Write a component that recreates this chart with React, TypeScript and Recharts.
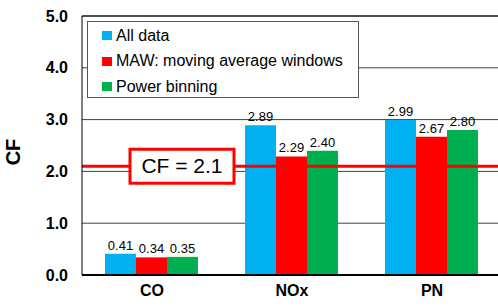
import React from "react";
import {
  BarChart,
  Bar,
  XAxis,
  YAxis,
  CartesianGrid,
  ReferenceLine,
  Legend,
  LabelList,
} from "recharts";

const categories = ["CO", "NOx", "PN"];
const allData = [0.41, 2.89, 2.99];
const maw = [0.34, 2.29, 2.67];
const powerBinning = [0.35, 2.4, 2.8];
const yTicks = [0, 1, 2, 3, 4, 5];
const cfLimit = 2.1;

const seriesInfo = [
  { key: "all", name: "All data", color: "#00B0F0" },
  { key: "maw", name: "MAW: moving average windows", color: "#FF0000" },
  { key: "power", name: "Power binning", color: "#00B050" },
];

const rows = categories.map((c, i) => ({
  name: c,
  all: allData[i],
  maw: maw[i],
  power: powerBinning[i],
}));

const FONT = "'Liberation Sans', Arial, sans-serif";

function LegendBox() {
  return (
    <div
      style={{
        width: 272,
        height: 77,
        boxSizing: "border-box",
        border: "1.5px solid #555",
        background: "#fff",
        paddingTop: 1,
        paddingLeft: 14,
        fontFamily: FONT,
        fontSize: 16,
        color: "#000",
      }}
    >
      {seriesInfo.map((s) => (
        <div
          key={s.key}
          style={{ height: 25.5, display: "flex", alignItems: "center" }}
        >
          <span
            style={{
              display: "inline-block",
              width: 10,
              height: 9,
              background: s.color,
              marginRight: 4,
            }}
          />
          <span>{s.name}</span>
        </div>
      ))}
    </div>
  );
}

// boxed "CF = 2.1" annotation sitting on the limit line
function CFLabel(props: any) {
  const vb = props.viewBox || {};
  const x = vb.x + 48;
  const y = vb.y;
  return (
    <g>
      <rect
        x={x}
        y={y - 17}
        width={104}
        height={34}
        fill="#fff"
        stroke="#FF0000"
        strokeWidth={3}
      />
      <text
        x={x + 52}
        y={y + 1}
        textAnchor="middle"
        dominantBaseline="middle"
        fontFamily={FONT}
        fontSize={21}
        fill="#000"
      >
        CF = {cfLimit}
      </text>
    </g>
  );
}

function CFAxisLabel() {
  const cx = 15;
  const cy = 152;
  return (
    <text
      x={cx}
      y={cy}
      transform={`rotate(-90, ${cx}, ${cy})`}
      textAnchor="middle"
      dominantBaseline="middle"
      fontFamily={FONT}
      fontWeight="bold"
      fontSize={20}
      fill="#000"
    >
      CF
    </text>
  );
}

export default function App() {
  return (
    <div
      style={{
        position: "absolute",
        left: 0,
        top: 0,
        width: 498,
        height: 306,
        overflow: "hidden",
        background: "#fff",
      }}
    >
      <BarChart
        width={520}
        height={306}
        data={rows}
        margin={{ top: 16, right: 18, left: 0, bottom: 0 }}
        barCategoryGap={23}
        barGap={0}
        style={{ fontFamily: FONT }}
      >
        <CartesianGrid vertical={false} stroke="#404040" strokeWidth={1} />
        <XAxis
          dataKey="name"
          height={31}
          axisLine={{ stroke: "#000", strokeWidth: 2 }}
          tickLine={false}
          tickSize={0}
          tickMargin={10}
          tick={{ fill: "#000", fontSize: 16, fontWeight: "bold", fontFamily: FONT }}
        />
        <YAxis
          width={82}
          domain={[0, 5]}
          ticks={yTicks}
          interval={0}
          tickFormatter={(v: number) => v.toFixed(1)}
          axisLine={{ stroke: "#000", strokeWidth: 1 }}
          tickLine={false}
          tickSize={0}
          tickMargin={14}
          tick={{ fill: "#000", fontSize: 16, fontWeight: "bold", fontFamily: FONT }}
          label={<CFAxisLabel />}
        />
        <Legend
          layout="vertical"
          align="center"
          verticalAlign="middle"
          content={() => <LegendBox />}
          wrapperStyle={{ top: 21, left: 87, width: 272, height: 77 }}
        />
        {seriesInfo.map((s) => (
          <Bar
            key={s.key}
            dataKey={s.key}
            name={s.name}
            fill={s.color}
            isAnimationActive={false}
          >
            <LabelList
              dataKey={s.key}
              position="top"
              offset={4}
              formatter={(v: number) => v.toFixed(2)}
              style={{ fill: "#000", fontSize: 13, fontFamily: FONT }}
            />
          </Bar>
        ))}
        <ReferenceLine y={5} stroke="#000" strokeWidth={1} />
        <ReferenceLine
          y={cfLimit}
          stroke="#FF0000"
          strokeWidth={3}
          label={(p: any) => <CFLabel {...p} />}
        />
      </BarChart>
    </div>
  );
}
